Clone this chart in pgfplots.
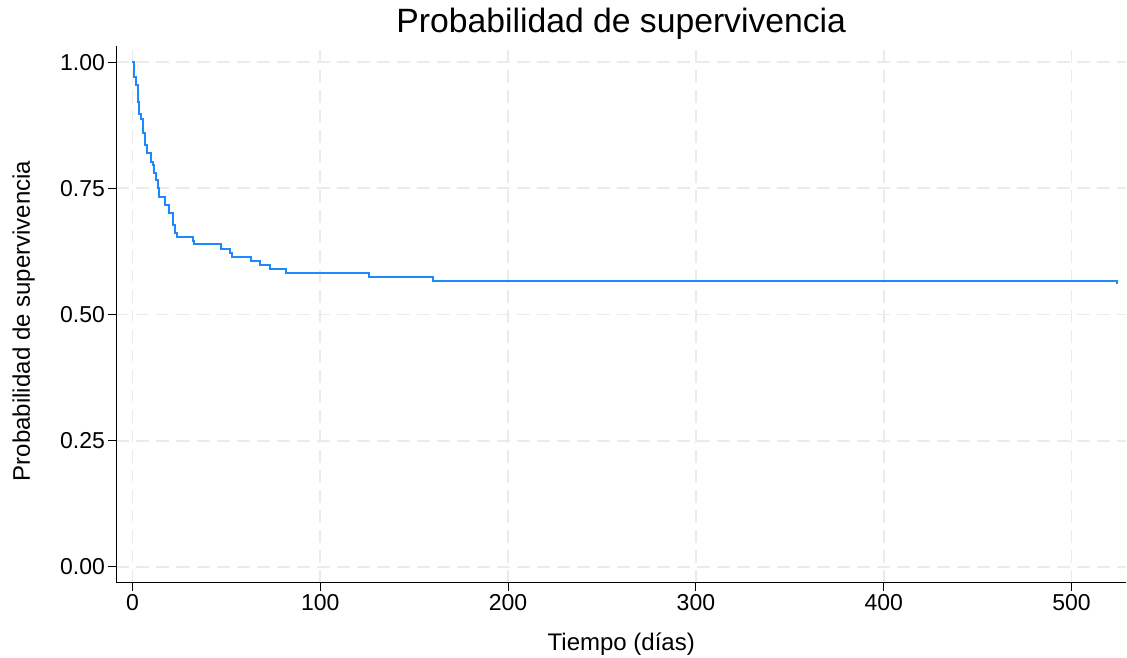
\documentclass[border=0pt]{standalone}
\usepackage{fontspec}
\setmainfont{Liberation Sans}
\usepackage{pgfplots}
\pgfplotsset{compat=1.18}
\definecolor{kmblue}{HTML}{1E88FF}
\definecolor{gridgray}{HTML}{EBEBEB}

% Kaplan-Meier estimate: time (days) and survival probability after each event
\pgfplotstableread{
t     s
0     1.000
1     0.970
2     0.954
3     0.921
3.5   0.898
4.4   0.888
5.8   0.859
6.7   0.836
7.5   0.819
9.9   0.803
10.7  0.796
11.6  0.780
12.5  0.766
13.4  0.750
14.3  0.733
17.3  0.717
19.6  0.702
21.4  0.677
22.6  0.662
23.5  0.654
32    0.646
33    0.639
47    0.630
52    0.622
53    0.614
63    0.606
68    0.599
73    0.591
82    0.583
126   0.575
160   0.567
524   0.560
}\kmdata

\begin{document}
\begin{tikzpicture}
\useasboundingbox (-116.5pt,-75pt) rectangle (1010.5pt,583pt);
\begin{axis}[
  at={(0pt,0pt)}, anchor=south west,
  scale only axis, width=1009.5pt, height=537pt,
  xmin=-8.5, xmax=529, ymin=-0.032, ymax=1.032,
  axis lines*=left,
  axis line style={black, line width=1pt},
  xtick={0,100,200,300,400,500},
  ytick={0,0.25,0.5,0.75,1},
  yticklabel style={/pgf/number format/.cd, fixed, fixed zerofill, precision=2},
  /pgf/number format/assume math mode=true,
  tick align=outside, major tick length=8pt,
  tick style={black, line width=1pt},
  grid=major,
  major grid style={gridgray, line width=1.8pt, dash pattern=on 13pt off 7pt},
  ticklabel style={font=\fontsize{23}{23}\selectfont},
  title={Probabilidad de supervivencia},
  title style={font=\fontsize{33.7}{33.7}\selectfont, at={(axis description cs:0.5,1)}, anchor=base, yshift=7pt},
  xlabel={Tiempo (días)},
  xlabel style={font=\fontsize{24}{24}\selectfont, at={(axis description cs:0.5,0)}, anchor=base, yshift=-67pt},
  ylabel={Probabilidad de supervivencia},
  ylabel style={font=\fontsize{24}{24}\selectfont, at={(axis description cs:0,0.488)}, anchor=base, yshift=86.5pt},
]
\addplot[const plot, kmblue, line width=2pt] table[x=t, y=s] {\kmdata};
\end{axis}
\end{tikzpicture}
\end{document}
